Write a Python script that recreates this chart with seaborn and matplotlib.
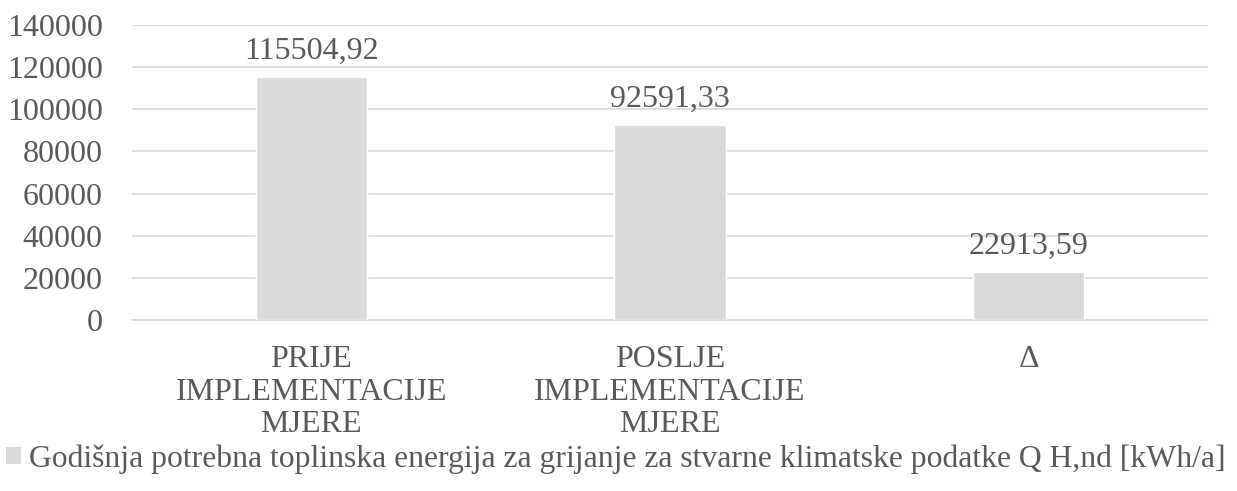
import matplotlib
matplotlib.use("Agg")
import matplotlib.pyplot as plt
import seaborn as sns
import pandas as pd
from matplotlib.patches import Patch

categories = ["PRIJE\nIMPLEMENTACIJE\nMJERE", "POSLJE\nIMPLEMENTACIJE\nMJERE", "Δ"]
values = [115504.92, 92591.33, 22913.59]
value_labels = ["115504,92", "92591,33", "22913,59"]
y_ticks = [0, 20000, 40000, 60000, 80000, 100000, 120000, 140000]
series_name = "Godišnja potrebna toplinska energija za grijanje za stvarne klimatske podatke Q H,nd [kWh/a]"

sns.set_style("white")
plt.rcParams["font.family"] = ["Liberation Serif", "DejaVu Serif"]

text_color = "#595959"
bar_color = "#d9d9d9"
grid_color = "#d9d9d9"
fs = 23

df = pd.DataFrame({"cat": categories, "val": values})

fig = plt.figure(figsize=(12.37, 4.91), dpi=100)
ax = fig.add_axes([132 / 1237, 1 - 320 / 491, (1208 - 132) / 1237, (320 - 25) / 491])

sns.barplot(data=df, x="cat", y="val", color=bar_color, width=0.31, ax=ax,
            saturation=1, zorder=3)

ax.set_ylim(0, 140000)
ax.set_xlim(-0.5, 2.5)
ax.set_yticks(y_ticks)
ax.set_yticklabels([str(t) for t in y_ticks])
ax.yaxis.grid(True, color=grid_color, linewidth=1.2, zorder=0)
ax.set_axisbelow(True)
for s in ["top", "right", "left"]:
    ax.spines[s].set_visible(False)
ax.spines["bottom"].set_color(grid_color)
ax.spines["bottom"].set_linewidth(1.2)
ax.tick_params(axis="both", length=0, labelsize=fs, colors=text_color)
ax.tick_params(axis="x", pad=18)
ax.tick_params(axis="y", pad=21)
for lbl in ax.get_xticklabels():
    lbl.set_linespacing(1.17)
ax.set_xlabel("")
ax.set_ylabel("")

for i, (v, t) in enumerate(zip(values, value_labels)):
    ax.annotate(t, (i, v), xytext=(0, 8), textcoords="offset points",
                ha="center", va="bottom", fontsize=fs, color=text_color)

handle = Patch(facecolor=bar_color, edgecolor="none")
fig.legend([handle], [series_name], loc="center left",
           bbox_to_anchor=(-0.005, 1 - 459 / 491), frameon=False,
           fontsize=22.8, labelcolor=text_color, handlelength=0.45,
           handleheight=0.45, handletextpad=0.25, borderaxespad=0)

fig.savefig("out.png", dpi=100)
